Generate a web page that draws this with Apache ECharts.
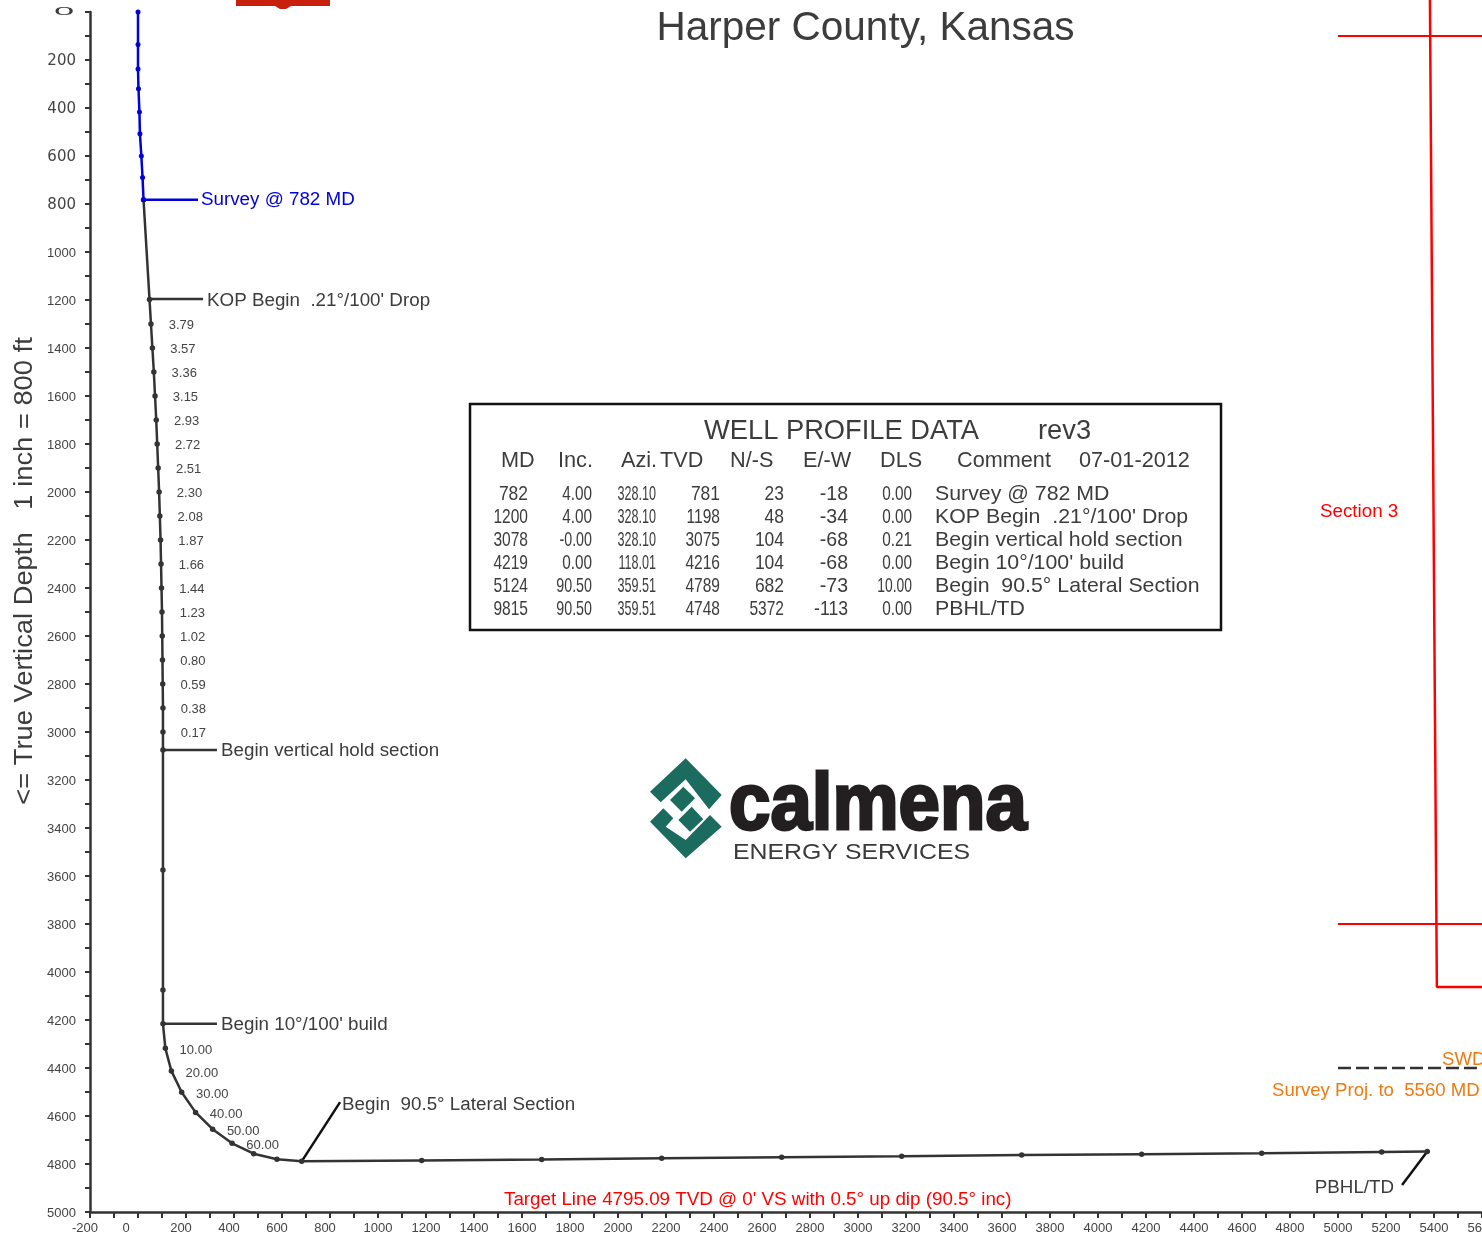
<!DOCTYPE html>
<html>
<head>
<meta charset="utf-8">
<title>Harper County, Kansas</title>
<script src="https://cdn.jsdelivr.net/npm/echarts@6/dist/echarts.min.js"></script>
<style>
html, body { margin: 0; padding: 0; background: #fff; }
#main { width: 1482px; height: 1235px; }
</style>
</head>
<body>
<div id="main"></div>
<script>
// ******* chart data *******
var surveySection = [0, 0, 0, 2, 6, 8, 14, 19, 23];
var surveyTvd = [0, 135, 237, 320, 417, 507, 600, 690, 782];

var wellSection = [23, 48, 54, 60, 66, 71, 76, 80, 84, 88, 91, 94, 96, 98, 100, 101, 102, 103, 104, 104, 104, 104, 104, 104,
    114, 139, 182, 240, 311, 392, 482, 579, 682,
    1182, 1682, 2182, 2682, 3182, 3682, 4182, 4682, 5182, 5372];
var wellTvd = [782, 1198, 1300, 1400, 1500, 1600, 1700, 1800, 1900, 2000, 2100, 2200, 2300, 2400, 2500, 2600, 2700, 2800, 2900, 3000, 3075, 3575, 4075, 4216,
    4318, 4412, 4501, 4585, 4655, 4714, 4757, 4780, 4789,
    4785, 4781, 4776, 4772, 4768, 4763, 4759, 4755, 4750, 4748];
var wellDls = ['', '', '3.79', '3.57', '3.36', '3.15', '2.93', '2.72', '2.51', '2.30', '2.08', '1.87', '1.66', '1.44', '1.23', '1.02', '0.80', '0.59', '0.38', '0.17', '', '', '', '',
    '10.00', '20.00', '30.00', '40.00', '50.00', '60.00', '', '', '',
    '', '', '', '', '', '', '', '', '', ''];

// leader lines: section from, tvd from, section to, tvd to, text
var leaderSurvey = [23, 782, 250, 782, 'Survey @ 782 MD'];
var leaderKop = [48, 1196, 271, 1196, "KOP Begin  .21\u00b0/100' Drop"];
var leaderHold = [104, 3075, 329, 3075, 'Begin vertical hold section'];
var leaderBuild = [104, 4216, 329, 4216, "Begin 10\u00b0/100' build"];
var leaderLateral = [682, 4789, 842, 4542, 'Begin  90.5\u00b0 Lateral Section'];
var leaderTd = [5372, 4748, 5267, 4888, 'PBHL/TD'];

// section 3 lines
var sectionLineX = [5383, 5412, 5600];
var sectionLineY = [-50, 4062, 4062];
var hardLineStart = 5000, hardLineEnd = 5600;
var hardLineTop = 100, hardLineBottom = 3800;
var swdTvd = 4400;

var tableHeader = ['MD', 'Inc.', 'Azi.', 'TVD', 'N/-S', 'E/-W', 'DLS', 'Comment', '07-01-2012'];
var tableMd = ['782', '1200', '3078', '4219', '5124', '9815'];
var tableInc = ['4.00', '4.00', '-0.00', '0.00', '90.50', '90.50'];
var tableAzi = ['328.10', '328.10', '328.10', '118.01', '359.51', '359.51'];
var tableTvd = ['781', '1198', '3075', '4216', '4789', '4748'];
var tableNs = ['23', '48', '104', '104', '682', '5372'];
var tableEw = ['-18', '-34', '-68', '-68', '-73', '-113'];
var tableDls = ['0.00', '0.00', '0.21', '0.00', '10.00', '0.00'];
var tableComment = ['Survey @ 782 MD', "KOP Begin  .21\u00b0/100' Drop", 'Begin vertical hold section', "Begin 10\u00b0/100' build", 'Begin  90.5\u00b0 Lateral Section', 'PBHL/TD'];

var FONT = '"Liberation Sans", Arial, sans-serif';
var DARK = '#333333';
var TEXT = '#3c3c3c';
var TEAL = '#1c6b5f';

var myChart = echarts.init(document.getElementById('main'));

function zip(xs, ys) {
    var out = [];
    for (var i = 0; i < xs.length; i++) {
        out.push([xs[i], ys[i]]);
    }
    return out;
}

function leader_series(item, color, labelColor, side, dist, nudge) {
    return {
        type: 'line',
        clip: false,
        symbol: 'circle',
        symbolSize: 0,
        showAllSymbol: true,
        lineStyle: { color: color, width: 2.5 },
        data: [
            [item[0], item[1]],
            {
                value: [item[2], item[3]],
                label: {
                    show: true,
                    position: side,
                    distance: dist,
                    offset: [0, nudge],
                    formatter: item[4],
                    color: labelColor,
                    fontFamily: FONT,
                    fontSize: 18.8
                }
            }
        ],
        z: 3
    };
}

function plain_line(points, color, width, dashed) {
    return {
        type: 'line',
        clip: false,
        symbol: 'none',
        lineStyle: { color: color, width: width, type: dashed ? [13, 5] : 'solid' },
        data: points,
        z: 2
    };
}

function text_el(str, x, y, size, color, align, scaleX) {
    return {
        type: 'text',
        x: x,
        y: y,
        scaleX: scaleX || 1,
        style: {
            text: str,
            fill: color,
            font: size + 'px ' + FONT,
            textAlign: align || 'left',
            textVerticalAlign: 'middle'
        }
    };
}

// table numbers are squeezed on the sheet, short ones a bit less
function cell_scale(str, shortScale, longScale, limit) {
    return str.length < limit ? shortScale : longScale;
}

// table + logo + loose captions live in the graphic layer
function build_graphic() {
    var els = [];
    // red mark cut off at the top of the sheet
    els.push({ type: 'rect', shape: { x: 236, y: 0, width: 94, height: 6 }, style: { fill: '#c8200d' } });
    els.push({ type: 'polygon', shape: { points: [[275, 6], [291, 6], [286, 9], [280, 9]] }, style: { fill: '#c8200d' } });

    // squashed zero at the top of the depth axis
    els.push({
        type: 'text', x: 64, y: 12, scaleX: 2.8, scaleY: 0.85,
        style: { text: '0', fill: TEXT, font: '13px ' + FONT, textAlign: 'center', textVerticalAlign: 'middle' }
    });

    // depth axis title, stretched along its length on the sheet
    els.push({
        type: 'text', x: 25, y: 571, rotation: Math.PI / 2, scaleX: 1.093,
        style: { text: '<= True Vertical Depth   1 inch = 800 ft', fill: TEXT, font: '25px ' + FONT, textAlign: 'center', textVerticalAlign: 'middle' }
    });

    els.push({ type: 'rect', shape: { x: 470, y: 404, width: 751, height: 226 }, style: { fill: '#fff', stroke: '#111', lineWidth: 2.5 }, z: -1 });
    els.push(text_el('WELL PROFILE DATA', 704, 431.5, 28, TEXT, 'left', 0.975));
    els.push(text_el('rev3', 1038, 431.5, 28, TEXT, 'left', 0.975));

    var headX = [501, 558, 621, 660, 730, 803, 880, 957, 1079];
    for (var h = 0; h < tableHeader.length; h++) {
        els.push(text_el(tableHeader[h], headX[h], 461, 22, TEXT, 'left', 0.985));
    }

    var rowY = [494, 517, 540, 563, 586, 609];
    var cols = [
        [tableMd, 528, 0.83, 0.74, 4], [tableInc, 592, 0.73, 0.68, 5], [tableAzi, 656, 0.6, 0.6, 6], [tableTvd, 720, 0.83, 0.74, 4],
        [tableNs, 784, 0.83, 0.74, 4], [tableEw, 848, 0.93, 0.84, 4], [tableDls, 912, 0.73, 0.66, 5]
    ];
    for (var r = 0; r < rowY.length; r++) {
        for (var c = 0; c < cols.length; c++) {
            var cell = cols[c][0][r];
            els.push(text_el(cell, cols[c][1], rowY[r], 21, TEXT, 'right', cell_scale(cell, cols[c][2], cols[c][3], cols[c][4])));
        }
        els.push(text_el(tableComment[r], 935, rowY[r], 21, TEXT, 'left', 1.015));
    }

    // captions
    els.push(text_el('Section 3', 1320, 512, 18.8, '#ff0000'));
    els.push(text_el('Target Line 4795.09 TVD @ 0\' VS with 0.5\u00b0 up dip (90.5\u00b0 inc)', 504, 1199.5, 18.8, '#ff0000'));
    els.push(text_el('SWD', 1442, 1060, 18.6, '#ee7a12'));
    els.push(text_el('Survey Proj. to  5560 MD', 1272, 1091, 18.6, '#ee7a12'));

    // logo, traced from the sheet
    var logoPolys = [
        [[650, 791.7], [685.7, 758.3], [721.7, 795], [709, 809.3], [685.7, 779.3], [660.7, 802.3]],
        [[650, 821.7], [663.3, 808.3], [673.3, 818.3], [665.7, 826.7], [685.7, 840], [710, 815], [721.7, 826.7], [685.7, 858.3]],
        [[683.3, 786.7], [695, 798.3], [681.7, 811.7], [670, 800]],
        [[691.7, 806.7], [703.3, 819.3], [690, 831.7], [678.3, 820]]
    ];
    for (var p = 0; p < logoPolys.length; p++) {
        els.push({ type: 'polygon', shape: { points: logoPolys[p] }, style: { fill: TEAL } });
    }
    els.push({
        type: 'text', x: 729, y: 847, scaleX: 0.93,
        style: { text: 'calmena', fill: '#231f20', stroke: '#231f20', lineWidth: 3, font: 'bold 80px ' + FONT, textVerticalAlign: 'bottom' }
    });
    els.push({
        type: 'text', x: 733, y: 853, scaleX: 1.13,
        style: { text: 'ENERGY SERVICES', fill: '#3a3a3a', font: '22px ' + FONT, textVerticalAlign: 'middle' }
    });
    return els;
}

function label_for_x(value) {
    if (value % 200 !== 0) {
        return '';
    }
    if (value === 0) {
        return '{z|0}';
    }
    if (Math.abs(value) < 1000) {
        return '{s|' + value + '}';
    }
    return '{n|' + value + '}';
}

function label_for_y(value) {
    if (value % 200 !== 0 || value === 0) {
        return '';
    }
    return value < 1000 ? '{w|' + value + '}' : '{n|' + value + '}';
}

var wellData = [];
for (var i = 0; i < wellSection.length; i++) {
    // drop labels sit a little further off the line than the build labels
    var isBuild = parseFloat(wellDls[i]) >= 10;
    wellData.push({
        value: [wellSection[i], wellTvd[i]],
        label: {
            show: wellDls[i] !== '',
            position: 'right',
            distance: isBuild ? 11.5 : 15,
            offset: [0, isBuild ? 2.5 : 1.5],
            formatter: wellDls[i],
            color: '#444',
            fontFamily: FONT,
            fontSize: 13
        }
    });
}

var option = {
    animation: false,
    backgroundColor: '#fff',
    title: {
        text: 'Harper County, Kansas',
        left: 860.5,
        top: 3,
        textAlign: 'center',
        textStyle: { color: TEXT, fontFamily: FONT, fontSize: 40.5, fontWeight: 'normal' }
    },
    grid: { left: 90, top: 12, width: 1392, height: 1200, containLabel: false, outerBoundsMode: 'none' },
    xAxis: {
        type: 'value',
        min: -200,
        max: 5600,
        interval: 100,
        position: 'bottom',
        splitLine: { show: false },
        axisLine: { onZero: false, lineStyle: { color: DARK, width: 2.5 } },
        axisTick: { length: 6, lineStyle: { color: DARK, width: 2 } },
        axisLabel: {
            interval: 0,
            hideOverlap: false,
            margin: 10,
            formatter: label_for_x,
            rich: {
                n: { color: '#444', fontFamily: FONT, fontSize: 13 },
                s: { color: '#444', fontFamily: FONT, fontSize: 13, padding: [0, 10, 0, 0] },
                z: { color: '#444', fontFamily: FONT, fontSize: 13, padding: [0, 24, 0, 0] }
            }
        }
    },
    yAxis: {
        type: 'value',
        inverse: true,
        min: 0,
        max: 5000,
        interval: 100,
        splitLine: { show: false },
        axisLine: { onZero: false, lineStyle: { color: DARK, width: 2.5 } },
        axisTick: { length: 5, lineStyle: { color: DARK, width: 2 } },
        axisLabel: {
            interval: 0,
            hideOverlap: false,
            margin: 14,
            formatter: label_for_y,
            rich: {
                n: { color: '#444', fontFamily: FONT, fontSize: 13, padding: [2, 0, 0, 0] },
                w: { color: '#444', fontFamily: '"DejaVu Sans"', fontSize: 15, padding: [3, 0, 0, 0] }
            }
        }
    },
    series: [
        plain_line(zip(sectionLineX, sectionLineY), '#ff0000', 2.5),
        plain_line([[hardLineStart, hardLineTop], [hardLineEnd, hardLineTop]], '#ff0000', 2),
        plain_line([[hardLineStart, hardLineBottom], [hardLineEnd, hardLineBottom]], '#ff0000', 2),
        plain_line([[hardLineStart, swdTvd], [hardLineEnd, swdTvd]], DARK, 2.5, true),
        {
            type: 'line',
            symbol: 'circle',
            symbolSize: 5.5,
            showAllSymbol: true,
            clip: false,
            itemStyle: { color: DARK },
            lineStyle: { color: DARK, width: 2.5 },
            data: wellData,
            z: 4
        },
        {
            type: 'line',
            symbol: 'circle',
            symbolSize: 5,
            showAllSymbol: true,
            clip: false,
            itemStyle: { color: '#0000dd' },
            lineStyle: { color: '#0000dd', width: 2.5 },
            data: zip(surveySection, surveyTvd),
            z: 5
        },
        leader_series(leaderSurvey, '#0000dd', '#0000dd', 'right', 3, 0),
        leader_series(leaderKop, DARK, TEXT, 'right', 4, 1.5),
        leader_series(leaderHold, DARK, TEXT, 'right', 4, 1),
        leader_series(leaderBuild, DARK, TEXT, 'right', 4, 1),
        leader_series(leaderLateral, '#111', TEXT, 'right', 2, 3),
        leader_series(leaderTd, '#111', TEXT, 'left', 8, 3)
    ],
    graphic: build_graphic()
};

myChart.setOption(option);
</script>
</body>
</html>
